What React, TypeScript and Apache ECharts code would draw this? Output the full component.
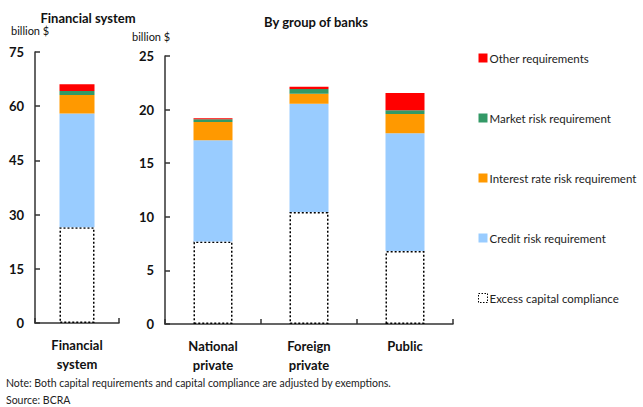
import React, { useEffect, useRef } from "react";
import * as echarts from "echarts";

const sysCategories = ["Financial\nsystem"];
const bankCategories = ["National\nprivate", "Foreign\nprivate", "Public"];

const sysExcess = [26.5];
const sysCredit = [31.5];
const sysInterest = [5.1];
const sysMarket = [1.1];
const sysOther = [1.9];

const bankExcess = [7.7, 10.45, 6.8];
const bankCredit = [9.45, 10.1, 11.0];
const bankInterest = [1.7, 0.93, 1.8];
const bankMarket = [0.25, 0.45, 0.35];
const bankOther = [0.1, 0.2, 1.6];

const sysTicks = { min: 0, max: 75, interval: 15 };
const bankTicks = { min: 0, max: 25, interval: 5 };

const FONT = "Lato, 'DejaVu Sans', sans-serif";

const names = {
  excess: "Excess capital compliance",
  credit: "Credit risk requirement",
  interest: "Interest rate risk requirement",
  market: "Market risk requirement",
  other: "Other requirements",
};
const colors = {
  credit: "#99CCFF",
  interest: "#FF9900",
  market: "#339966",
  other: "#FF0000",
};

export default function App() {
  const ref = useRef<HTMLDivElement>(null);
  useEffect(() => {
    const chart = echarts.init(ref.current!, null, { renderer: "svg" });
    const axisColor = "#333";
    const yAxisCommon = (t: any, gridIndex: number) => ({
      type: "value",
      gridIndex,
      min: t.min,
      max: t.max,
      interval: t.interval,
      axisLine: { show: true, lineStyle: { color: axisColor, width: 1.5 } },
      axisTick: { show: true, inside: true, length: 5, lineStyle: { color: axisColor, width: 1.5 } },
      splitLine: { show: false },
      axisLabel: { color: "#111", fontWeight: "bold", fontSize: 13, fontFamily: FONT, margin: 11 },
    });
    const xAxisCommon = (cats: string[], gridIndex: number) => ({
      type: "category",
      gridIndex,
      data: cats,
      axisLine: { show: true, lineStyle: { color: axisColor, width: 1.5 } },
      axisTick: { show: true, inside: true, length: 5, lineStyle: { color: axisColor, width: 1.5 } },
      axisLabel: {
        color: "#111",
        fontWeight: "bold",
        fontSize: 13,
        fontFamily: FONT,
        lineHeight: 19,
        margin: 12,
        interval: 0,
      },
    });
    const mk = (key: keyof typeof names, data: number[], idx: number, barWidth: number) => {
      const base: any = {
        name: names[key],
        type: "bar",
        stack: "s" + idx,
        xAxisIndex: idx,
        yAxisIndex: idx,
        data,
        barWidth,
      };
      if (key === "excess") {
        base.itemStyle = {
          color: "#ffffff",
          borderColor: "#000",
          borderWidth: 1.5,
          borderType: [2, 2],
        };
      } else {
        base.itemStyle = { color: (colors as any)[key] };
      }
      return base;
    };
    const series: any[] = [];
    const keys: (keyof typeof names)[] = ["excess", "credit", "interest", "market", "other"];
    const sysData: any = { excess: sysExcess, credit: sysCredit, interest: sysInterest, market: sysMarket, other: sysOther };
    const bankData: any = { excess: bankExcess, credit: bankCredit, interest: bankInterest, market: bankMarket, other: bankOther };
    keys.forEach((k) => series.push(mk(k, sysData[k], 0, 35)));
    keys.forEach((k) => series.push(mk(k, bankData[k], 1, 39)));

    chart.setOption({
      animation: false,
      textStyle: { fontFamily: FONT },
      grid: [
        { left: 35, top: 52, width: 84, height: 271 },
        { left: 165, top: 56, width: 288, height: 268 },
      ],
      xAxis: [xAxisCommon(sysCategories, 0), xAxisCommon(bankCategories, 1)],
      yAxis: [yAxisCommon(sysTicks, 0), yAxisCommon(bankTicks, 1)],
      legend: {
        orient: "vertical",
        left: 473,
        top: 46,
        itemWidth: 9,
        itemHeight: 9,
        itemGap: 46,
        icon: "rect",
        selectedMode: false,
        textStyle: { color: "#222", fontSize: 11.5, fontFamily: FONT, lineHeight: 14, padding: [0, 0, 0, -3] },
        data: [
          { name: names.other },
          { name: names.market },
          { name: names.interest },
          { name: names.credit },
          {
            name: names.excess,
            itemStyle: { color: "#fff", borderColor: "#000", borderWidth: 1, borderType: [1.5, 1.5] },
          },
        ],
      },
      graphic: [
        {
          type: "text",
          x: 88,
          y: 11,
          style: { text: "Financial system", font: `bold 13px ${FONT}`, fill: "#111", textAlign: "center" },
        },
        {
          type: "text",
          x: 316,
          y: 15,
          style: { text: "By group of banks", font: `bold 13px ${FONT}`, fill: "#111", textAlign: "center" },
        },
        {
          type: "text",
          left: 11,
          top: 25,
          style: { text: "billion $", font: `11px ${FONT}`, fill: "#111" },
        },
        {
          type: "text",
          left: 132,
          top: 31,
          style: { text: "billion $", font: `11px ${FONT}`, fill: "#111" },
        },
        {
          type: "text",
          left: 6,
          top: 377,
          style: {
            text: "Note: Both capital requirements and capital compliance are adjusted by exemptions.",
            font: `10.5px ${FONT}`,
            fill: "#222",
          },
        },
        {
          type: "text",
          left: 6,
          top: 394,
          style: { text: "Source: BCRA", font: `10.5px ${FONT}`, fill: "#222" },
        },
      ],
      series,
    });
    return () => chart.dispose();
  }, []);
  return <div ref={ref} style={{ width: 643, height: 407, position: "absolute", left: 0, top: 0 }} />;
}
